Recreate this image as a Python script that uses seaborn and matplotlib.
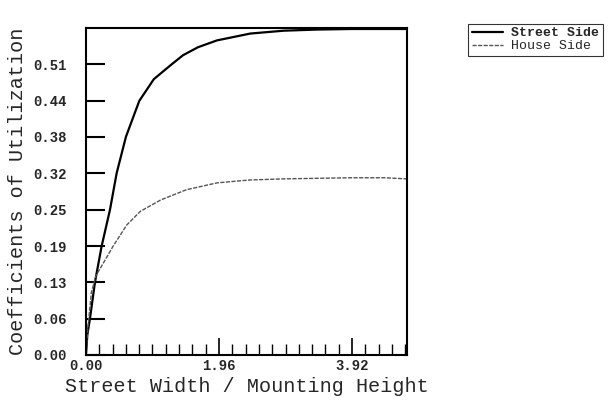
import numpy as np
import pandas as pd
import matplotlib
matplotlib.use("Agg")
import matplotlib.pyplot as plt
import seaborn as sns

# valores
street_x = [0.0, 0.02, 0.059, 0.133, 0.231, 0.354, 0.452, 0.589, 0.786, 1.0,
            1.262, 1.43, 1.65, 1.93, 2.42, 2.91, 3.40, 3.92, 4.40, 4.73]
street_side = [0.0, 0.035, 0.064, 0.128, 0.191, 0.255, 0.319, 0.383, 0.446,
               0.484, 0.510, 0.526, 0.540, 0.552, 0.564, 0.569, 0.571, 0.572,
               0.572, 0.572]
house_x = [0.0, 0.03, 0.08, 0.15, 0.25, 0.40, 0.60, 0.80, 1.10, 1.48, 1.93,
           2.40, 2.90, 3.40, 3.92, 4.40, 4.73]
house_side = [0.0, 0.050, 0.110, 0.140, 0.160, 0.191, 0.228, 0.252, 0.272,
              0.290, 0.302, 0.307, 0.309, 0.310, 0.311, 0.311, 0.309]

y_step = 0.06375
y_labels = ["0.00", "0.06", "0.13", "0.19", "0.25", "0.32", "0.38", "0.44", "0.51"]
x_major = [0.0, 1.96, 3.92]
x_labels = ["0.00", "1.96", "3.92"]

sns.set_theme(style="white")
plt.rcParams["font.family"] = ["Liberation Mono", "DejaVu Sans Mono"]

fig = plt.figure(figsize=(6.14, 4.0), dpi=100)
ax = fig.add_axes([0.140, 0.1125, 0.523, 0.8175])

sns.lineplot(x=street_x, y=street_side, ax=ax, color="black", lw=1.6,
             label="Street Side")
sns.lineplot(x=house_x, y=house_side, ax=ax, color="#555555", lw=1.0,
             linestyle=(0, (3, 1)), label="House Side")

ax.set_xlim(0, 4.73)
ax.set_ylim(0, 9 * y_step)

ax.set_yticks([i * y_step for i in range(len(y_labels))])
ax.set_yticklabels(y_labels, fontsize=10, fontweight="bold")
ax.set_xticks(x_major)
ax.set_xticklabels(x_labels, fontsize=10, fontweight="bold")
ax.set_xticks(np.arange(0, 4.73, 0.196), minor=True)

ax.tick_params(axis="y", direction="in", length=14, width=1.5, color="black",
               pad=14, left=True)
ax.tick_params(axis="x", which="major", direction="in", length=12, width=1.2,
               color="black", pad=3, bottom=True)
ax.tick_params(axis="x", which="minor", direction="in", length=8, width=1.0,
               color="black", bottom=True)

for sp in ax.spines.values():
    sp.set_color("black")
    sp.set_linewidth(1.5)

ax.set_xlabel("Street Width / Mounting Height", fontsize=14.5, labelpad=3)
ax.set_ylabel("Coefficients of Utilization", fontsize=14.5, labelpad=4)

handles, labels = ax.get_legend_handles_labels()
ax.get_legend().remove()
leg = fig.legend(handles, labels, loc="upper left",
                 bbox_to_anchor=(0.752, 0.957), frameon=True, fancybox=False,
                 edgecolor="black", fontsize=9.5, handlelength=2.4,
                 labelspacing=0.05, borderpad=0.25, handletextpad=0.6)
leg.get_frame().set_linewidth(0.8)
leg.get_texts()[0].set_fontweight("bold")

fig.savefig("out.png", dpi=100)
